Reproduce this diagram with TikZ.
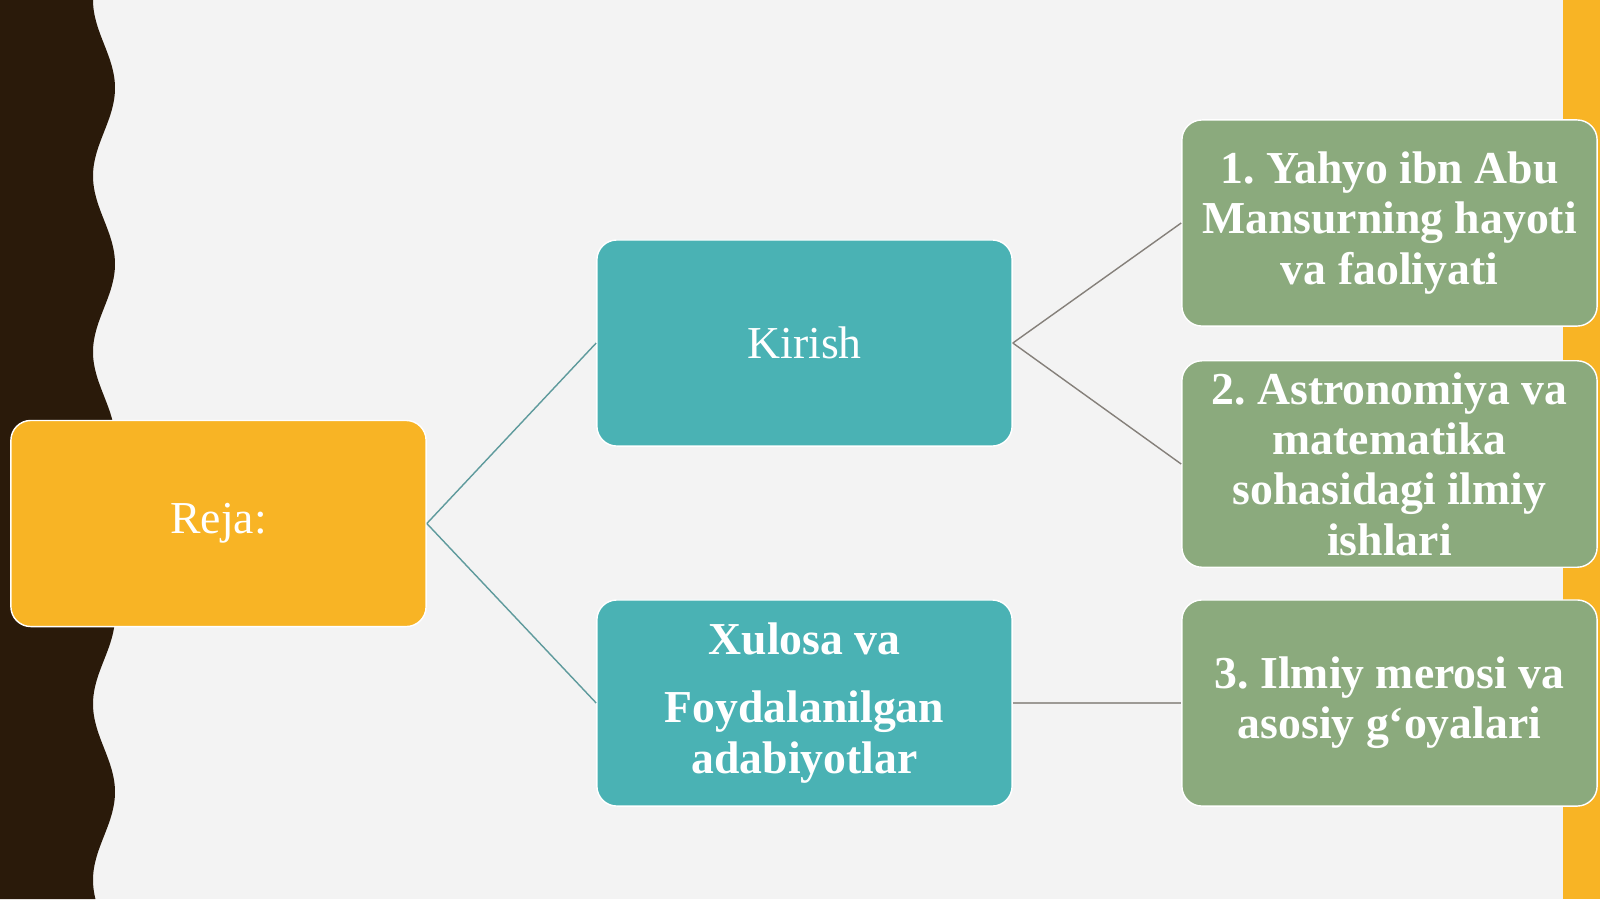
\documentclass[tikz,border=0pt]{standalone}
\usepackage{fontspec}
\setmainfont{Liberation Serif}
\usepackage{tikz}
\frenchspacing

\definecolor{fon}{HTML}{F3F3F3}
\definecolor{jigar}{HTML}{2A1A0A}
\definecolor{sariq}{HTML}{F8B425}
\definecolor{moviy}{HTML}{4AB2B4}
\definecolor{yashil}{HTML}{8BAA7D}
\definecolor{chiziqA}{HTML}{5E9A9C}
\definecolor{chiziqB}{HTML}{85807A}

\begin{document}
\begin{tikzpicture}[x=0.01cm, y=-0.01cm,
    quti/.style={rounded corners=0.2cm, draw=white, line width=0.4pt,
      minimum width=4.15cm, minimum height=2.06cm, align=center,
      text=white, font=\fontsize{13}{14.3}\selectfont},
    bosh/.style={quti, fill=sariq},
    orta/.style={quti, fill=moviy},
    oxir/.style={quti, fill=yashil, font=\fontsize{13}{14.3}\selectfont\bfseries}]
  % fon va chekkalar
  \fill[fon] (0, 0) rectangle (1600, 899);
  \fill[sariq] (1563, 0) rectangle (1600, 899);
  \fill[jigar] (0, 0) -- plot[domain=0:899, samples=240] ({104-11*cos(\x/176*360)}, \x) -- (0, 899) -- cycle;
  % qutilar
  \node[bosh] (reja)   at (218.5, 523.5) {Reja:};
  \node[orta] (kirish) at (804.5, 343)   {Kirish};
  \node[orta, font=\fontsize{13}{14.3}\selectfont\bfseries] (xulosa) at (804.5, 703)
    {Xulosa va\\[5pt] Foydalanilgan\\ adabiyotlar};
  \node[oxir] (hayot) at (1389.5, 223) {1. Yahyo ibn Abu\\ Mansurning hayoti\\ va faoliyati};
  \node[oxir] (ilm)   at (1389.5, 464) {2. Astronomiya va\\ matematika\\ sohasidagi ilmiy\\ ishlari};
  \node[oxir] (meros) at (1389.5, 703) {3. Ilmiy merosi va\\ asosiy g‘oyalari};
  % bog'lovchilar
  \draw[chiziqA, line width=0.4pt] (reja.east) -- (kirish.west);
  \draw[chiziqA, line width=0.4pt] (reja.east) -- (xulosa.west);
  \draw[chiziqB, line width=0.4pt] (kirish.east) -- (hayot.west);
  \draw[chiziqB, line width=0.4pt] (kirish.east) -- (ilm.west);
  \draw[chiziqB!80, line width=0.6pt] (xulosa.east) -- (meros.west);
\end{tikzpicture}
\end{document}
